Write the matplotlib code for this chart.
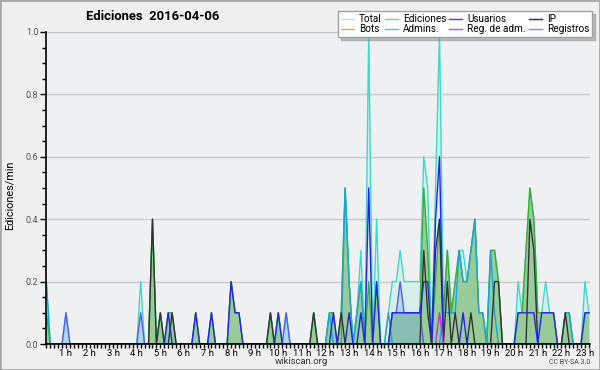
import numpy as np
import matplotlib
matplotlib.use('Agg')
import matplotlib.pyplot as plt
from matplotlib.lines import Line2D
from matplotlib.patches import Rectangle
from matplotlib.ticker import MultipleLocator, FixedLocator

plt.rcParams['font.family'] = ['Roboto', 'DejaVu Sans']

# ---- data: edits per minute, 10-minute bins starting at 00:00 ----
total = [0.2,0.2,0,0,0,0, 0.1,0,0,0,0,0, 0,0,0,0,0,0, 0,0,0,0,0,0,
         0,0.2,0,0,0.4,0, 0.1,0,0.1,0.1,0,0, 0,0,0,0.1,0,0, 0,0.1,0,0,0,0,
         0.2,0.1,0.1,0,0,0, 0,0,0,0,0.1,0, 0.1,0,0.1,0,0,0, 0,0,0,0.1,0,0,
         0,0.1,0.1,0,0.1,0.5, 0.2,0,0.1,0.3,0,1.0, 0,0.4,0,0,0.1,0.2, 0.2,0.3,0.2,0.2,0.2,0.2,
         0.2,0.6,0.5,0,0.5,1.0, 0.1,0.3,0.1,0.2,0.3,0.3, 0.2,0.3,0.4,0.1,0.1,0, 0.3,0.3,0.2,0,0,0,
         0,0.2,0.1,0.3,0.5,0.4, 0.1,0.1,0.2,0.1,0.1,0, 0,0.1,0.1,0,0,0, 0.2,0.1]
ediciones = [0.1,0.1,0,0,0,0, 0,0,0,0,0,0, 0,0,0,0,0,0, 0,0,0,0,0,0,
             0,0,0,0,0.4,0, 0.1,0,0.1,0.1,0,0, 0,0,0,0.1,0,0, 0,0.1,0,0,0,0,
             0.2,0.1,0.1,0,0,0, 0,0,0,0,0.1,0, 0.1,0,0,0,0,0, 0,0,0,0.1,0,0,
             0,0.1,0.1,0,0.1,0.5, 0.2,0,0.1,0.2,0,0.2, 0,0.2,0,0,0,0.1, 0.1,0.1,0.1,0.1,0.1,0.1,
             0.1,0.5,0.3,0,0.2,0.4, 0.1,0.3,0.1,0.2,0.3,0.2, 0.2,0.3,0.4,0.1,0.1,0, 0.3,0.3,0.2,0,0,0,
             0,0.1,0.1,0.3,0.5,0.4, 0.1,0.1,0.1,0.1,0.1,0, 0,0.1,0.1,0,0,0, 0.1,0.1]
usuarios = [0,0,0,0,0,0, 0,0,0,0,0,0, 0,0,0,0,0,0, 0,0,0,0,0,0,
            0,0,0,0,0,0, 0,0,0.1,0,0,0, 0,0,0,0.1,0,0, 0,0.1,0,0,0,0,
            0.2,0.1,0.1,0,0,0, 0,0,0,0,0,0, 0.1,0,0,0,0,0, 0,0,0,0,0,0,
            0,0,0.1,0,0,0, 0.1,0,0,0.1,0,0.5, 0,0.2,0,0,0,0.1, 0.1,0.1,0.1,0.1,0.1,0.1,
            0.1,0.2,0.2,0,0.4,0.6, 0,0,0,0,0,0.1, 0,0,0,0,0,0, 0,0,0,0,0,0,
            0,0.1,0.1,0.1,0.1,0.1, 0,0.1,0.1,0.1,0.1,0, 0,0,0,0,0,0, 0.1,0.1]
ip = [0,0,0,0,0,0, 0,0,0,0,0,0, 0,0,0,0,0,0, 0,0,0,0,0,0,
      0,0,0,0,0.4,0, 0.1,0,0,0.1,0,0, 0,0,0,0,0,0, 0,0,0,0,0,0,
      0,0,0,0,0,0, 0,0,0,0,0.1,0, 0,0,0,0,0,0, 0,0,0,0.1,0,0,
      0,0,0,0,0.1,0, 0,0,0,0,0,0, 0,0,0,0,0,0, 0,0,0,0,0,0,
      0,0.3,0.1,0,0.3,0.4, 0,0.2,0,0.1,0,0, 0,0.1,0,0,0,0, 0,0.2,0.2,0,0,0,
      0,0,0,0,0.4,0.3, 0,0,0,0,0,0, 0,0.1,0,0,0,0, 0,0]
admins = [0.2,0.2,0,0,0,0, 0,0,0,0,0,0, 0,0,0,0,0,0, 0,0,0,0,0,0,
          0,0,0,0,0,0, 0,0,0,0,0,0, 0,0,0,0,0,0, 0,0,0,0,0,0,
          0,0,0,0,0,0, 0,0,0,0,0,0, 0,0,0,0,0,0, 0,0,0,0,0,0,
          0,0.1,0,0,0,0.5, 0.2,0,0.1,0.2,0,0, 0,0,0,0,0.1,0, 0,0,0,0,0,0,
          0,0,0,0,0,0, 0.1,0.1,0.1,0.1,0.3,0.2, 0.2,0.3,0.4,0.1,0.1,0, 0.3,0.1,0,0,0,0,
          0,0,0,0,0,0, 0,0,0,0,0,0, 0,0.1,0.1,0,0,0, 0,0]
registros = [0,0,0,0,0,0, 0.1,0,0,0,0,0, 0,0,0,0,0,0, 0,0,0,0,0,0,
             0,0.1,0,0,0,0, 0,0,0,0,0,0, 0,0,0,0,0,0, 0,0,0,0,0,0,
             0,0,0,0,0,0, 0,0,0,0,0,0, 0,0,0.1,0,0,0, 0,0,0,0,0,0,
             0,0,0,0,0,0, 0,0,0,0,0,0, 0,0,0,0,0,0.1, 0.1,0.2,0.1,0.1,0.1,0.1,
             0.1,0,0,0,0,0, 0,0,0,0,0,0, 0,0,0,0,0,0, 0,0,0,0,0,0,
             0,0,0,0,0,0, 0,0,0,0,0,0, 0,0,0,0,0,0, 0,0]
reg_adm = [0]*101 + [0.1] + [0]*38
bots = [0]*140

hour_ticks = list(range(1, 24))
hour_labels = [f'{h} h' for h in hour_ticks]
legend_labels = ['Total', 'Bots', 'Ediciones', 'Admins.', 'Usuarios', 'Reg. de adm.', 'IP', 'Registros']
legend_colors = ['#a8e8e0', '#f0a040', '#80d080', '#40c8e0', '#4040e0', '#d040e0', '#303030', '#8080f0']

hours = np.arange(len(total)) / 6.0

fig = plt.figure(figsize=(6, 3.7), dpi=100, facecolor='#f0f0f0')
ax = fig.add_axes([46/600, 1-344/370, 544/600, 312/370])
ax.set_facecolor('#eef0f2')

ax.fill_between(hours, 0, total, color='#d6efe9', lw=0, zorder=1)
ax.fill_between(hours, 0, ediciones, color='#98cb98', lw=0, zorder=1.1)
ax.fill_between(hours, 0, registros, color='#6fa8e8', alpha=0.35, lw=0, zorder=1.2)

lw = 1.0
ax.plot(hours, total, color='#3fd9c9', lw=lw, zorder=2)
ax.plot(hours, ediciones, color='#38b038', lw=lw, zorder=2.05)
ax.plot(hours, bots, color='#f0a040', lw=lw, zorder=2.06)
ax.plot(hours, admins, color='#1ea5d6', lw=lw, zorder=2.1)
ax.plot(hours, registros, color='#5a5af0', lw=lw, zorder=2.15)
ax.plot(hours, ip, color='#333333', lw=lw, zorder=2.2)
ax.plot(hours, usuarios, color='#2424e6', lw=lw, zorder=2.25)
ax.plot(hours, reg_adm, color='#c030e0', lw=lw, zorder=2.3)

ax.set_xlim((46-42.4)/23.59, (590-42.4)/23.59)
ax.set_ylim(0, 1.0)

ax.xaxis.set_major_locator(FixedLocator(hour_ticks))
ax.set_xticklabels(hour_labels)
ax.xaxis.set_minor_locator(MultipleLocator(1/6))
ax.yaxis.set_major_locator(MultipleLocator(0.2))
ax.yaxis.set_minor_locator(MultipleLocator(0.05))
ax.yaxis.set_major_formatter(matplotlib.ticker.FormatStrFormatter('%.1f'))

ax.tick_params(axis='x', which='both', direction='out', length=3, width=1, pad=0.5,
               labelsize=6.8, colors='black')
ax.tick_params(axis='y', which='major', direction='out', length=4, width=1, pad=1.5,
               labelsize=6.5, labelcolor='#555555')
ax.tick_params(axis='y', which='minor', direction='out', length=3, width=1)

ax.yaxis.grid(True, which='major', color='#c8c8c8', lw=1)
ax.set_axisbelow(True)
for s in ['top', 'right']:
    ax.spines[s].set_visible(False)
for s in ['left', 'bottom']:
    ax.spines[s].set_color('black')
    ax.spines[s].set_linewidth(1.2)
    ax.spines[s].set_zorder(5)

handles = [Line2D([], [], color=c, lw=1) for c in legend_colors]
fig.legend(handles, legend_labels, ncol=4, loc='upper right',
           bbox_to_anchor=(592/600, 1-11/370), fontsize=7.2, handlelength=1.3,
           handletextpad=0.5, columnspacing=0.3, labelspacing=0.0, borderpad=0.3,
           borderaxespad=0, frameon=True, fancybox=False, edgecolor='#a0a0a0',
           facecolor='white', framealpha=1, shadow={'color': '#888888'})

fig.text(153/600, 1-17/370, 'Ediciones  2016-04-06', ha='center', va='center',
         fontsize=9.4, fontweight='bold')
fig.text(10/600, 1-195/370, 'Ediciones/min', rotation=90, ha='center', va='center',
         fontsize=7.8)
fig.text(301/600, 1-361/370, 'wikiscan.org', ha='center', va='center', fontsize=6.8,
         color='#333333')
fig.text(590/600, 1-362/370, 'CC BY-SA 3.0', ha='right', va='center', fontsize=5,
         color='#444444')

fig.patches.append(Rectangle((0, 0), 1, 1, transform=fig.transFigure, fill=False,
                             edgecolor='#a8a8a8', lw=2))

fig.savefig('out.png', dpi=100, facecolor=fig.get_facecolor())
